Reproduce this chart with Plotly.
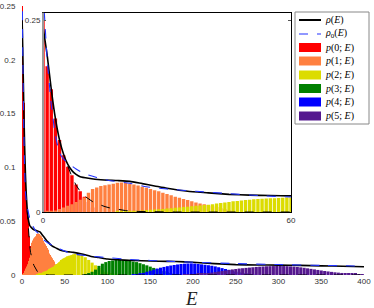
import plotly.graph_objects as go

# ---------------- data ----------------
# fine energy grid (step 1) used for 0..60
red_start, red_vals = 0, [0.25, 0.19, 0.16, 0.122, 0.094, 0.074, 0.059, 0.048, 0.036, 0.027, 0.02, 0.013, 0.006]
orange_start, orange_vals = 0, [0.0, 0.0005, 0.001, 0.002, 0.004, 0.006, 0.008, 0.010, 0.013, 0.016,
                                0.019, 0.025, 0.030, 0.032, 0.034, 0.035, 0.036, 0.037, 0.038, 0.0385,
                                0.038, 0.037, 0.036, 0.0345, 0.033, 0.0315, 0.030, 0.0285, 0.027, 0.025,
                                0.0235, 0.022, 0.020, 0.0185, 0.017, 0.0155, 0.014, 0.0125, 0.011, 0.010,
                                0.009, 0.008, 0.0065, 0.005, 0.0035, 0.002, 0.001]
yellow_start, yellow_vals = 18, [0.0005, 0.0007, 0.001, 0.0012, 0.0015, 0.0017, 0.002, 0.0025, 0.003, 0.0032,
                                 0.0035, 0.004, 0.0045, 0.005, 0.0055, 0.006, 0.0065, 0.007, 0.0075, 0.008,
                                 0.0085, 0.009, 0.0095, 0.0102, 0.011, 0.0118, 0.0125, 0.0132, 0.014, 0.0145,
                                 0.015, 0.0155, 0.016, 0.0165, 0.017, 0.0172, 0.0175, 0.0178, 0.018, 0.0183,
                                 0.0185, 0.0188, 0.019]
# coarse energy grid (step 4) used beyond 60
yellow_c_start, yellow_c_vals = 62, [0.0195, 0.0195, 0.0185, 0.0165, 0.014, 0.0115, 0.009, 0.0065, 0.0045,
                                     0.003, 0.0018, 0.001, 0.0004]
green_start, green_vals = 74, [0.0005, 0.0015, 0.003, 0.005, 0.0085, 0.0105, 0.012, 0.013, 0.0135, 0.014,
                               0.014, 0.0138, 0.0135, 0.013, 0.0125, 0.012, 0.011, 0.010, 0.009, 0.0078,
                               0.0066, 0.0056, 0.0046, 0.0036, 0.0026, 0.0016, 0.0008, 0.0003]
blue_start, blue_vals = 130, [0.0003, 0.0007, 0.0012, 0.002, 0.003, 0.004, 0.005, 0.006, 0.0068, 0.0075,
                              0.0082, 0.0088, 0.0093, 0.0098, 0.0102, 0.0105, 0.0107, 0.0108, 0.0106, 0.0103,
                              0.0099, 0.0095, 0.0091, 0.0086, 0.008, 0.0072, 0.0064, 0.0056, 0.0048, 0.004,
                              0.0032, 0.0025, 0.0018, 0.0012, 0.0007, 0.0003]
purple_start, purple_vals = 190, [0.0002, 0.0004, 0.0006, 0.0008, 0.001, 0.0012, 0.0015, 0.0018, 0.0022, 0.0027,
                                  0.0032, 0.0037, 0.0042, 0.0047, 0.0052, 0.0056, 0.006, 0.0063, 0.0066, 0.0069,
                                  0.0072, 0.0075, 0.0077, 0.0079, 0.0081, 0.0082, 0.0083, 0.0084, 0.0084, 0.0083,
                                  0.0082, 0.008, 0.0078, 0.0075, 0.0071, 0.0067, 0.0062, 0.0057, 0.0052, 0.0047,
                                  0.0042, 0.0037, 0.0033, 0.0029, 0.0025, 0.0022, 0.0019, 0.0016, 0.0014, 0.0012,
                                  0.001, 0.0008, 0.0007]

rho_E = [0, 1, 2, 3, 4, 5, 6, 7, 8, 9, 11, 14, 18, 21, 24, 27, 30, 35, 40, 45,
         50, 55, 60, 70, 80, 90, 100, 120, 140, 160, 180, 200, 225, 250, 275, 300, 325, 350, 375, 400]
rho_v = [0.242, 0.205, 0.16, 0.122, 0.094, 0.075, 0.062, 0.054, 0.049, 0.046,
         0.044, 0.042, 0.041, 0.040, 0.037, 0.034, 0.031, 0.027, 0.025, 0.023,
         0.022, 0.0215, 0.021, 0.0195, 0.0175, 0.0162, 0.0148, 0.0138, 0.0132, 0.0128,
         0.0125, 0.0118, 0.0106, 0.0096, 0.0093, 0.0092, 0.0089, 0.0085, 0.0081, 0.0077]
rho0_E = [0.3, 1, 2, 3, 4, 5, 6, 8, 10, 13, 16, 21, 25, 30, 37, 45, 52, 60, 70, 80,
          100, 125, 150, 175, 200, 250, 300, 350, 400]
rho0_v = [0.262, 0.2, 0.14, 0.1, 0.077, 0.069, 0.064, 0.056, 0.05, 0.045,
          0.041, 0.0375, 0.033, 0.030, 0.027, 0.024, 0.0215, 0.0195, 0.0185, 0.0175,
          0.0162, 0.0145, 0.0135, 0.0127, 0.0119, 0.0106, 0.0097, 0.0089, 0.0083]
fit_E = [6, 7, 8, 9, 10, 11, 12, 13, 14, 15, 16, 18, 20, 23, 27, 32, 60, 400]
fit_v = [0.06, 0.046, 0.035, 0.027, 0.021, 0.017, 0.0135, 0.011, 0.0088, 0.007,
         0.0055, 0.0032, 0.0018, 0.0007, 0.0002, 0.0, 0.0, 0.0]

main_xticks = [0, 50, 100, 150, 200, 250, 300, 350, 400]
main_yticks = [0, 0.05, 0.1, 0.15, 0.2, 0.25]
main_yticklabels = ["0", "0.05", "0.1", "0.15", "0.2", "0.25"]
inset_xticks = [0, 60]
inset_yticks = [0, 0.25]
inset_yticklabels = ["0", "0.25"]

legend_labels = ["<i>ρ</i>(<i>E</i>)", "<i>ρ</i><sub>0</sub>(<i>E</i>)",
                 "<i>p</i>(0; <i>E</i>)", "<i>p</i>(1; <i>E</i>)", "<i>p</i>(2; <i>E</i>)",
                 "<i>p</i>(3; <i>E</i>)", "<i>p</i>(4; <i>E</i>)", "<i>p</i>(5; <i>E</i>)"]
colors = ["#FF0000", "#FF8040", "#DCDC00", "#008000", "#0000FF", "#55188F"]

# ---------------- figure ----------------
W, H = 374, 308


def px(x):
    return x / W


def py(y):
    return 1 - y / H


def xs(start, vals, step):
    return [start + step * i for i in range(len(vals))]


fig = go.Figure()

fine = [(red_start, red_vals, colors[0]), (orange_start, orange_vals, colors[1]),
        (yellow_start, yellow_vals, colors[2])]
coarse = [(yellow_c_start, yellow_c_vals, colors[2]), (green_start, green_vals, colors[3]),
          (blue_start, blue_vals, colors[4]), (purple_start, purple_vals, colors[5])]

# main plot bars
for s, v, c in fine:
    fig.add_trace(go.Bar(x=xs(s, v, 1), y=v, width=1.0, marker=dict(color=c, line=dict(width=0)),
                         xaxis="x", yaxis="y", showlegend=False))
for s, v, c in coarse:
    fig.add_trace(go.Bar(x=xs(s, v, 4), y=v, width=3.6, marker=dict(color=c, line=dict(width=0)),
                         xaxis="x", yaxis="y", showlegend=False))
# inset bars
for s, v, c in fine:
    fig.add_trace(go.Bar(x=xs(s, v, 1), y=v, width=0.82, marker=dict(color=c, line=dict(width=0)),
                         xaxis="x2", yaxis="y2", showlegend=False))

# curves on both plots
for xa, ya in [("x", "y"), ("x2", "y2")]:
    fig.add_trace(go.Scatter(x=fit_E, y=fit_v, mode="lines", line=dict(color="black", width=1, dash="dash"),
                             xaxis=xa, yaxis=ya, showlegend=False))
    fig.add_trace(go.Scatter(x=rho_E, y=rho_v, mode="lines", line=dict(color="black", width=1.6, shape="spline", smoothing=0.5),
                             xaxis=xa, yaxis=ya, showlegend=False))
    fig.add_trace(go.Scatter(x=rho0_E, y=rho0_v, mode="lines", line=dict(color="#2233FF", width=1.1, dash="dash", shape="spline", smoothing=0.5),
                             xaxis=xa, yaxis=ya, showlegend=False))

tickfont = dict(family="Liberation Sans", size=8, color="#333333")

shapes = []
annotations = []

# inset left edge (gray)
shapes.append(dict(type="line", xref="x2 domain", yref="y2 domain", x0=0, x1=0, y0=0, y1=1,
                   line=dict(color="#999999", width=2)))

# legend box
shapes.append(dict(type="rect", xref="paper", yref="paper", x0=px(295), x1=px(369), y0=py(124), y1=py(12),
                   line=dict(color="#888888", width=1), fillcolor="white", layer="above"))
leg_y = [20, 34, 47.5, 61, 75, 88.5, 102, 116]
shapes.append(dict(type="line", xref="paper", yref="paper", x0=px(299), x1=px(321), y0=py(leg_y[0]), y1=py(leg_y[0]),
                   line=dict(color="black", width=2), layer="above"))
shapes.append(dict(type="line", xref="paper", yref="paper", x0=px(299), x1=px(321), y0=py(leg_y[1]), y1=py(leg_y[1]),
                   line=dict(color="#2233FF", width=1.2, dash="dash"), layer="above"))
for i, c in enumerate(colors):
    yc = leg_y[i + 2]
    shapes.append(dict(type="rect", xref="paper", yref="paper", x0=px(299), x1=px(321), y0=py(yc + 4.5), y1=py(yc - 4.5),
                       line=dict(width=0), fillcolor=c, layer="above"))
for lab, yc in zip(legend_labels, leg_y):
    annotations.append(dict(text=lab, xref="paper", yref="paper", x=px(323), y=py(yc), xanchor="left", yanchor="middle",
                            showarrow=False, font=dict(family="Liberation Serif", size=10, color="black")))

# x axis title
annotations.append(dict(text="<i>E</i>", xref="paper", yref="paper", x=px(191), y=py(298), xanchor="center",
                        yanchor="middle", showarrow=False, font=dict(family="Liberation Serif", size=19, color="#222222")))

fig.update_layout(
    width=W, height=H, margin=dict(l=0, r=0, t=0, b=0, autoexpand=False),
    paper_bgcolor="white", plot_bgcolor="white",
    barmode="overlay", showlegend=False,
    xaxis=dict(domain=[px(22), px(364)], range=[0, 400], tickvals=main_xticks, showgrid=False, zeroline=False,
               showline=False, ticks="", tickfont=tickfont, automargin=False),
    yaxis=dict(domain=[py(275), py(6)], range=[0, 0.25], tickvals=main_yticks, ticktext=main_yticklabels,
               showgrid=False, zeroline=False, showline=False, ticks="outside", ticklen=4,
               tickcolor="rgba(0,0,0,0)", tickfont=tickfont, automargin=False),
    xaxis2=dict(domain=[px(43), px(291)], range=[0, 60], tickvals=inset_xticks, anchor="y2", showgrid=False,
                zeroline=False, showline=True, linecolor="black", linewidth=1, mirror=True, ticks="",
                tickfont=tickfont, automargin=False),
    yaxis2=dict(domain=[py(212), py(12.7)], range=[0, 0.26], tickvals=inset_yticks, ticktext=inset_yticklabels,
                anchor="x2", showgrid=False, zeroline=False, showline=True, linecolor="black", linewidth=1,
                mirror="ticks", ticks="inside", ticklen=3, tickcolor="#555555", tickfont=tickfont,
                automargin=False),
    shapes=shapes, annotations=annotations,
)

fig.write_html("out.html", config={"displayModeBar": False},
               post_script="document.body.style.margin='0';document.body.style.padding='0';"
                           "document.body.style.overflow='hidden';")
